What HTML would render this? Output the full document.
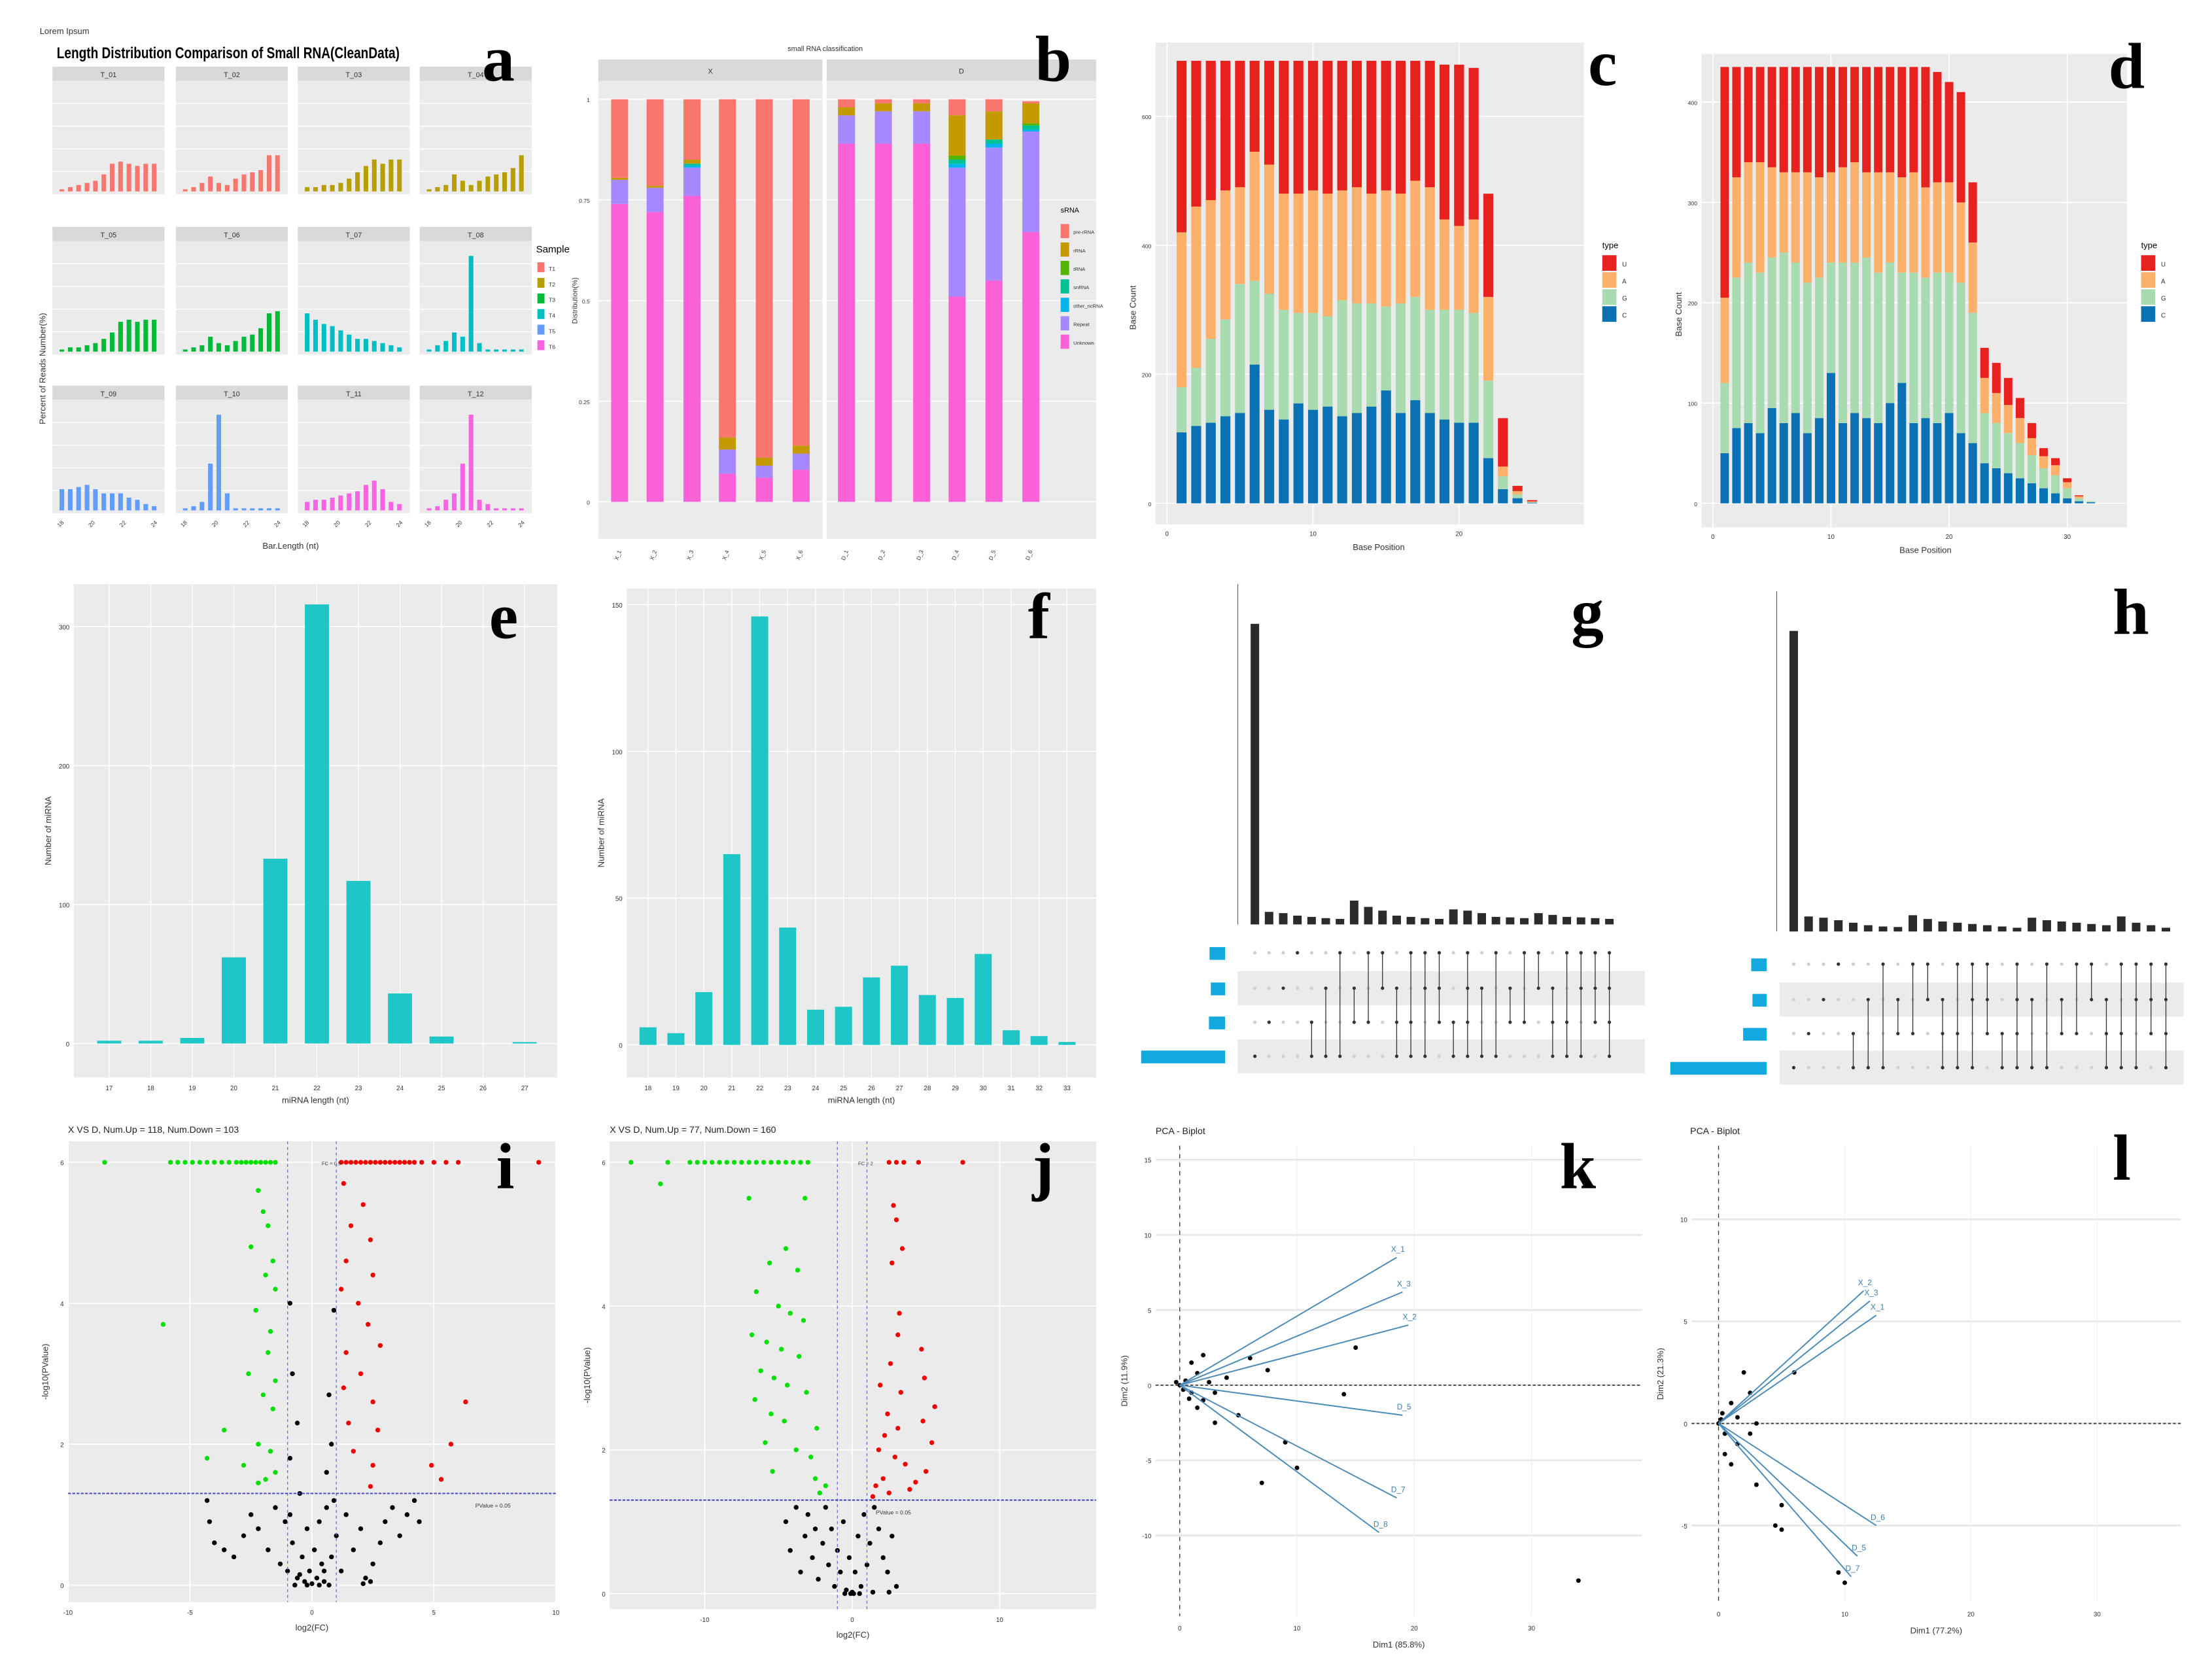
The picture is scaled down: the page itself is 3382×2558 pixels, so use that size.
<!DOCTYPE html>
<html><head><meta charset="utf-8"><style>
html,body{margin:0;padding:0;background:#fff;}
svg{display:block;font-family:"Liberation Sans",sans-serif;}
.big{font-family:"Liberation Serif",serif;font-weight:bold;}
</style></head><body>
<svg id="fig" xmlns="http://www.w3.org/2000/svg" width="3382" height="2558" viewBox="0 0 1560 1180" preserveAspectRatio="none"></svg>
<script>
// ---------- DATA ----------
const aSamples=['T_01','T_02','T_03','T_04','T_05','T_06','T_07','T_08','T_09','T_10','T_11','T_12'];
const aColors=['#f8766d','#f8766d','#b79f00','#b79f00','#00ba38','#00ba38','#00bfc4','#00bfc4','#619cff','#619cff','#f564e3','#f564e3'];
const aValues=[
[1,2,3,4,5,8,13,14,13,12,13,13],[1,2,4,7,4,3,6,8,9,10,17,17],[2,2,3,3,4,6,9,12,15,13,15,15],[1,2,3,8,5,3,5,7,8,9,11,17],
[1,2,2,3,4,6,9,14,15,14,15,15],[1,2,3,7,4,3,5,7,8,11,18,19],[18,15,13,12,10,8,6,6,5,4,3,2],[1,3,5,9,7,45,4,1,1,1,1,1],
[10,10,11,12,10,8,8,8,6,5,3,2],[1,2,4,22,45,8,1,1,1,1,1,1],[4,5,5,6,7,8,9,12,14,10,4,3],[1,2,5,8,22,45,5,3,1,1,1,1]];
const bCats=['X_1','X_2','X_3','X_4','X_5','X_6','D_1','D_2','D_3','D_4','D_5','D_6'];
const bTypes=['Unknown','Repeat','other_ncRNA','snRNA','tRNA','rRNA','pre-rRNA'];
const bColors=['#fb61d7','#a58aff','#00b6eb','#00c094','#53b400','#c49a00','#f8766d'];
const bUnknown=[0.74,0.72,0.76,0.07,0.06,0.08,0.89,0.89,0.89,0.51,0.55,0.67];
const bRepeat=[0.06,0.06,0.07,0.06,0.03,0.04,0.07,0.08,0.08,0.32,0.33,0.25];
const bOther=[0,0,0.005,0,0,0,0,0,0,0.01,0.01,0.005];
const bSn=[0,0,0.005,0,0,0,0,0,0,0.01,0.01,0.01];
const bT=[0,0,0,0,0,0,0,0,0,0.01,0,0.005];
const bR=[0.005,0.005,0.01,0.03,0.02,0.02,0.02,0.02,0.02,0.1,0.07,0.05];
const bPre=[0.195,0.215,0.15,0.84,0.89,0.86,0.02,0.01,0.01,0.04,0.03,0.005];
const cC=[110,120,125,135,140,215,145,130,155,145,150,135,140,150,175,140,160,140,130,125,125,70,22,8,1];
const cG=[70,90,130,150,200,130,180,170,140,150,140,180,170,160,130,170,160,160,170,175,170,120,20,6,1];
const cA=[240,250,215,200,150,200,200,180,185,190,190,170,180,170,180,170,180,190,140,130,145,130,15,5,1];
const cU=[266,226,216,201,196,141,161,206,206,201,206,201,196,206,201,206,186,196,240,250,235,160,75,8,2];
const dC=[50,75,80,70,95,80,90,70,85,130,80,90,85,80,100,120,80,85,80,90,70,60,40,35,30,25,20,15,10,5,2,1];
const dG=[70,150,160,160,150,170,150,150,140,110,160,150,160,150,140,110,150,140,150,140,150,130,50,45,40,35,28,20,18,10,3,1];
const dA=[85,100,100,110,90,80,90,110,100,90,95,100,85,100,90,95,100,90,90,90,80,70,35,30,28,25,17,12,10,6,2,0];
const dU=[230,110,95,95,100,105,105,105,110,105,100,95,105,105,105,110,105,120,110,100,110,60,30,30,27,20,15,8,7,4,1,0];
const eCats=[17,18,19,20,21,22,23,24,25,26,27];
const eVals=[2,2,4,62,133,316,117,36,5,0,1];
const fCats=[18,19,20,21,22,23,24,25,26,27,28,29,30,31,32,33];
const fVals=[6,4,18,65,146,40,12,13,23,27,17,16,31,5,3,1];
const gCounts=[1200,50,45,35,30,25,22,95,70,55,35,30,25,22,60,55,45,30,28,25,45,38,30,28,25,22];
const gSets=['0001','0010','0100','1000','0011','0101','1001','0110','1010','1100','0111','1011','1101','1110','0011','1111','0101','1001','0110','1010','1100','0111','1011','1101','1110','1111'];
const gSizes=[250,230,260,1350];
const hCounts=[1200,60,55,45,35,25,20,18,65,50,40,35,30,25,20,15,55,45,40,35,30,25,60,35,25,15];
const hSets=['0001','0010','0100','1000','0011','0101','1001','0110','1010','1100','0111','1011','1101','1110','0011','1111','0101','1001','0110','1010','1100','0111','1011','1101','1110','1111'];
const hSizes=[250,230,380,1550];
const iGreenX=[-8.5,-5.8,-5.5,-5.2,-4.9,-4.6,-4.3,-4.0,-3.7,-3.4,-3.1,-2.9,-2.7,-2.5,-2.3,-2.1,-1.9,-1.7,-1.5,-2.2,-2.0,-1.8,-2.5,-1.6,-1.9,-1.5,-2.3,-1.7,-6.1,-1.8,-2.6,-1.5,-2.0,-1.6,-3.6,-2.2,-1.7,-4.3,-2.8,-1.5,-1.9,-2.2];
const iGreenY=[6,6,6,6,6,6,6,6,6,6,6,6,6,6,6,6,6,6,6,5.6,5.3,5.1,4.8,4.6,4.4,4.2,3.9,3.6,3.7,3.3,3.0,2.9,2.7,2.5,2.2,2.0,1.9,1.8,1.7,1.6,1.5,1.45];
const iRedX=[1.2,1.4,1.6,1.8,2.0,2.2,2.4,2.6,2.8,3.0,3.2,3.4,3.6,3.8,4.0,4.2,4.5,5.0,5.5,6.0,9.3,1.3,2.1,1.6,2.4,1.4,2.5,1.2,1.9,2.3,2.8,1.4,2.0,1.3,2.5,6.3,1.5,2.7,5.7,1.7,2.5,5.3,4.9,2.4];
const iRedY=[6,6,6,6,6,6,6,6,6,6,6,6,6,6,6,6,6,6,6,6,6,5.7,5.4,5.1,4.9,4.6,4.4,4.2,4.0,3.7,3.4,3.3,3.0,2.8,2.6,2.6,2.3,2.2,2.0,1.9,1.7,1.5,1.7,1.4];
const iBlackX=[-0.9,0.9,-0.8,0.7,-0.6,0.8,-0.9,0.6,-0.5,-4.3,-4.2,-4.0,-3.6,-3.2,-2.8,-2.5,-2.2,-1.8,-1.5,-1.3,-1.1,-1.0,-0.8,-0.6,-0.4,-0.3,-0.2,-0.1,0,0.1,0.2,0.3,0.4,0.5,0.6,0.8,1.0,1.2,1.4,1.7,2.0,2.2,2.5,2.8,3.0,3.3,3.6,3.9,4.2,4.4,-0.7,0.7,-0.2,0.3,2.4,2.1,-0.5,0.5,-0.9,0.9];
const iBlackY=[4.0,3.9,3.0,2.7,2.3,2.0,1.8,1.6,1.3,1.2,0.9,0.6,0.5,0.4,0.7,1.0,0.8,0.5,1.1,0.3,0.9,0.2,0.6,0.1,0.4,0.05,0.8,0.2,0.02,0.5,0.1,0.9,0.3,0.05,1.1,0.4,0.7,0.2,1.0,0.5,0.8,0.1,0.3,0.6,0.9,1.1,0.7,1.0,1.2,0.9,0,0,0,0,0.05,0.02,0.15,0.2,1.0,1.2];
const jGreenX=[-15,-12.5,-11,-10.5,-10,-9.5,-9,-8.5,-8,-7.5,-7,-6.5,-6,-5.5,-5,-4.5,-4,-3.5,-3,-13,-7,-3.2,-4.5,-5.6,-3.7,-6.5,-5,-4.2,-3.3,-6.8,-5.8,-4.8,-3.6,-6.2,-5.3,-4.4,-3.1,-6.6,-5.5,-4.6,-2.4,-5.9,-3.8,-2.8,-5.4,-2.5,-1.8,-2.2];
const jGreenY=[6,6,6,6,6,6,6,6,6,6,6,6,6,6,6,6,6,6,6,5.7,5.5,5.5,4.8,4.6,4.5,4.2,4.0,3.9,3.8,3.6,3.5,3.4,3.3,3.1,3.0,2.9,2.8,2.7,2.5,2.4,2.3,2.1,2.0,1.9,1.7,1.6,1.5,1.4];
const jRedX=[2.5,3,3.5,4.5,7.5,2.8,3.0,3.4,2.7,3.1,4.7,3.2,2.6,4.9,1.9,3.3,5.6,2.4,4.8,3.1,2.2,5.4,1.8,2.9,3.6,5.0,2.1,4.3,1.6,3.9,2.5,1.4];
const jRedY=[6,6,6,6,6,5.4,5.2,4.8,4.6,3.6,3.4,3.9,3.2,3.0,2.9,2.8,2.6,2.5,2.4,2.3,2.2,2.1,2.0,1.9,1.8,1.7,1.6,1.55,1.5,1.45,1.4,1.35];
const jBlackX=[-4.5,-4.2,-3.8,-3.5,-3.2,-3.0,-2.7,-2.5,-2.3,-2.0,-1.8,-1.6,-1.4,-1.2,-1.0,-0.8,-0.6,-0.4,-0.2,0,0.2,0.4,0.6,0.8,1.0,1.2,1.5,1.8,2.1,2.4,2.7,3.0,-0.5,0.5,-0.1,0.1,1.4,2.5];
const jBlackY=[1.0,0.6,1.2,0.3,0.8,1.1,0.5,0.9,0.2,0.7,1.2,0.4,0.9,0.1,0.6,0.3,1.0,0.05,0.5,0.02,0.3,0.8,0.1,1.1,0.4,0.7,1.2,0.9,0.5,0.3,0.8,0.1,0,0,0,0,0.02,0.02];
const kLoadNames=['X_1','X_3','X_2','D_5','D_7','D_8'];
const kLoadX=[18.5,19,19.5,19,18.5,17];
const kLoadY=[8.5,6.2,4,-2,-7.5,-9.8];
const kPtX=[0,0.5,1,1.5,2,0.3,2.5,3,1,2,6,7.5,15,14,5,9,3,7,10,34,1.5,4,-0.3,0.8];
const kPtY=[0,0.3,-0.5,0.8,-1,-0.3,0.2,-0.5,1.5,2,1.8,1,2.5,-0.6,-2,-3.8,-2.5,-6.5,-5.5,-13,-1.5,0.5,0.2,-0.9];
const lLoadNames=['X_2','X_3','X_1','D_6','D_5','D_7'];
const lLoadX=[11.5,12,12.5,12.5,11,10.5];
const lLoadY=[6.5,6,5.3,-5,-6.5,-7.5];
const lPtX=[0,0.3,0.5,1,2,2.5,1.5,3,6,4.5,5,5,3,1,0.5,9.5,10,2.5,0.2,1.5];
const lPtY=[0,0.5,-0.5,1,2.5,1.5,-1,0,2.5,-5,-5.2,-4,-3,-2,-1.5,-7.3,-7.8,-0.5,0.2,0.3];

// ---------- helpers ----------
const NS='http://www.w3.org/2000/svg';
const svg=document.getElementById('fig');
function el(tag,attrs,parent){const e=document.createElementNS(NS,tag);for(const k in attrs)e.setAttribute(k,attrs[k]);(parent||svg).appendChild(e);return e;}
function txt(x,y,s,size,parent,extra){const t=el('text',Object.assign({x:x,y:y,'font-size':size,fill:'#333'},extra||{}),parent);t.textContent=s;return t;}
function grp(name){const g=el('g',{});return g;}
function bigLetter(x,y,s){const t=txt(x,y,s,46,svg,{'class':'big',fill:'#000'});}

// ---------- Panel a ----------
(function(){
const g=grp('panel-a');
txt(28,24,'Lorem Ipsum',6,g);
const tt=txt(40,41,'Length Distribution Comparison of Small RNA(CleanData)',11,g,{'font-weight':'bold',fill:'#000',transform:'scale(0.8,1) translate(10,0)'});

const colX=[37,124,210,296],rowY=[47,160,272],W=79;
aSamples.forEach((s,i)=>{
 const cx=colX[i%4],ry=rowY[Math.floor(i/4)];
 const fg=el('g',{},g);
 el('rect',{x:cx,y:ry,width:W,height:10,fill:'#d9d9d9'},fg);
 txt(cx+W/2,ry+7.5,s,5,fg,{'text-anchor':'middle'});
 el('rect',{x:cx,y:ry+10,width:W,height:80,fill:'#ebebeb'},fg);
 for(let k=1;k<5;k++)el('line',{x1:cx,x2:cx+W,y1:ry+10+k*16,y2:ry+10+k*16,stroke:'#fff','stroke-width':0.6},fg);
 const base=ry+88,sp=(W-8)/12;
 aValues[i].forEach((v,j)=>{const b=el('rect',{x:cx+5+j*sp,y:base-v*1.5,width:sp*0.55,height:v*1.5,fill:aColors[i]},fg);
 });
});
const yl=txt(0,0,'Percent of Reads Number(%)',6,g,{transform:'translate(32,260) rotate(-90)','text-anchor':'middle'});
txt(205,387,'Bar.Length (nt)',6,g,{'text-anchor':'middle'});
[37,124,210,296].forEach(x=>{['18','20','22','24'].forEach((l,k)=>txt(x+5+k*22,372,l,4,g,{transform:`rotate(-45 ${x+5+k*22} 372)`}));});
const lg=el('g',{},g);
txt(378,178,'Sample',7,lg,{fill:'#000'});
['#f8766d','#b79f00','#00ba38','#00bfc4','#619cff','#f564e3'].forEach((c,k)=>{el('rect',{x:379,y:185+k*11,width:5,height:7,fill:c},lg);txt(387,191+k*11,'T'+(k+1),4,lg);});
})();
bigLetter(340,57,'a');

// ---------- Panel b ----------
(function(){
const g=grp('panel-b');
txt(582,36,'small RNA classification',5,g,{'text-anchor':'middle'});
el('rect',{x:422,y:42,width:158,height:15,fill:'#d9d9d9'},g);el('rect',{x:583,y:42,width:190,height:15,fill:'#d9d9d9'},g);
txt(501,52,'X',5,g,{'text-anchor':'middle'});txt(678,52,'D',5,g,{'text-anchor':'middle'});
el('rect',{x:422,y:57,width:158,height:323,fill:'#ebebeb'},g);el('rect',{x:583,y:57,width:190,height:323,fill:'#ebebeb'},g);
const y0=354,yh=284;
[0,0.25,0.5,0.75,1].forEach(t=>{const y=y0-t*yh;el('line',{x1:422,x2:773,y1:y,y2:y,stroke:'#fff','stroke-width':0.8},g);txt(416,y+2,String(t),4,g,{'text-anchor':'end'});});
el('line',{x1:581.5,x2:581.5,y1:57,y2:380,stroke:'#fff','stroke-width':3},g);
txt(0,0,'Distribution(%)',5,g,{transform:'translate(407,212) rotate(-90)','text-anchor':'middle'});
const xs=[437,462,488,513,539,565,597,623,650,675,701,727];
const series=[bUnknown,bRepeat,bOther,bSn,bT,bR,bPre];
bCats.forEach((c,i)=>{let acc=0;series.forEach((s,k)=>{const v=s[i];if(v<=0)return;const r=el('rect',{x:xs[i]-6,y:y0-(acc+v)*yh,width:12,height:v*yh,fill:bColors[k]},g);
 acc+=v;});
 txt(xs[i],392,c,4,g,{transform:`rotate(-70 ${xs[i]} 392)`,'text-anchor':'middle'});});
const lg=el('g',{},g);
txt(748,150,'sRNA',5,lg,{fill:'#000'});
['pre-rRNA','rRNA','tRNA','snRNA','other_ncRNA','Repeat','Unknown'].forEach((n,k)=>{el('rect',{x:748,y:158+k*13,width:6,height:10,fill:bColors[6-k]},lg);txt(757,165+k*13,n,3.5,lg);});
})();
bigLetter(730,57,'b');

// ---------- Panels c,d ----------
function baseStack(name,bx,by,bw,bh,x0,xs,y0,ys,yticks,xticks,C,G,A,U,barW,lx){
 const g=grp(name);
 el('rect',{x:bx,y:by,width:bw,height:bh,fill:'#ebebeb'},g);
 yticks.forEach(t=>{const y=y0-t*ys;el('line',{x1:bx,x2:bx+bw,y1:y,y2:y,stroke:'#fff','stroke-width':0.8},g);txt(bx-3,y+2,String(t),4,g,{'text-anchor':'end'});});
 xticks.forEach(t=>{const x=x0+t*xs;el('line',{x1:x,x2:x,y1:by,y2:by+bh,stroke:'#fff','stroke-width':0.8},g);txt(x,by+bh+8,String(t),4.5,g,{'text-anchor':'middle'});});
 const types=['C','G','A','U'],cols=['#0a72b4','#a8dcb0','#fdb06a','#e7211e'],data=[C,G,A,U];
 C.forEach((_,i)=>{let acc=0;const x=x0+(i+1)*xs;data.forEach((s,k)=>{const v=s[i];if(v<=0)return;const r=el('rect',{x:x-barW/2,y:y0-(acc+v)*ys,width:barW,height:v*ys,fill:cols[k]},g);
 acc+=v;});});
 txt(0,0,'Base Count',6,g,{transform:`translate(${bx-14},${by+bh*0.55}) rotate(-90)`,'text-anchor':'middle'});
 txt(x0+xs*(C.length/2+2),by+bh+18,'Base Position',6,g,{'text-anchor':'middle'});
 const lg=el('g',{},g);
 txt(lx,175,'type',6,lg,{fill:'#000'});
 ['U','A','G','C'].forEach((n,k)=>{el('rect',{x:lx,y:180+k*12,width:10,height:11,fill:cols[3-k]},lg);txt(lx+14,188+k*12,n,4.5,lg);});
}
baseStack('panel-c',815,30,302,340,823,10.3,355,0.455,[0,200,400,600],[0,10,20],cC,cG,cA,cU,7,1130);
bigLetter(1120,60,'c');
baseStack('panel-d',1200,38,300,334,1208,8.33,355,0.7075,[0,100,200,300,400],[0,10,20,30],dC,dG,dA,dU,6,1510);
bigLetter(1487,62,'d');

// ---------- Panels e,f ----------
function lenBar(name,bx,by,bw,bh,cats,vals,x0,xsp,y0,ys,yticks,barW){
 const g=grp(name);
 el('rect',{x:bx,y:by,width:bw,height:bh,fill:'#ebebeb'},g);
 yticks.forEach(t=>{const y=y0-t*ys;el('line',{x1:bx,x2:bx+bw,y1:y,y2:y,stroke:'#fff','stroke-width':0.8},g);txt(bx-3,y+2,String(t),4.5,g,{'text-anchor':'end'});});
 cats.forEach((c,i)=>{const x=x0+i*xsp;el('line',{x1:x,x2:x,y1:by,y2:by+bh,stroke:'#fff','stroke-width':0.6},g);
 const r=el('rect',{x:x-barW/2,y:y0-vals[i]*ys,width:barW,height:vals[i]*ys,fill:'#1fc6c8'},g);
 
 txt(x,by+bh+9,String(c),4.5,g,{'text-anchor':'middle'});});
 txt(bx+bw/2,by+bh+18,'miRNA length (nt)',6,g,{'text-anchor':'middle'});
 txt(0,0,'Number of miRNA',6,g,{transform:`translate(${bx-16},${by+bh/2}) rotate(-90)`,'text-anchor':'middle'});
}
lenBar('panel-e',52,412,341,348,eCats,eVals,77,29.3,736,0.98,[0,100,200,300],17);
bigLetter(345,450,'e');
lenBar('panel-f',442,415,331,345,fCats,fVals,457,19.7,737,2.07,[0,50,100,150],12);
bigLetter(725,450,'f');

// ---------- Panels g,h (UpSet) ----------
function upset(name,x0,sp,base,counts,sets,rowY,sizes,sx,mx1,mx2){
 const g=grp(name);
 const sc=212/1200;
 el('line',{x1:x0-12,x2:x0-12,y1:base-240,y2:base,stroke:'#333','stroke-width':0.4},g);
 counts.forEach((c,i)=>{const x=x0+i*sp;const r=el('rect',{x:x-3,y:base-c*sc,width:6,height:c*sc,fill:'#2b2b2b'},g);
 });
 rowY.forEach((y,k)=>{if(k%2==1)el('rect',{x:mx1,y:y-12,width:mx2-mx1,height:24,fill:'#ebebeb'},g);});
 sets.forEach((s,i)=>{const x=x0+i*sp;let ys=[];for(let k=0;k<4;k++){const on=s[k]=='1';el('circle',{cx:x,cy:rowY[k],r:1.2,fill:on?'#333':'#d0d0d0'},g);if(on)ys.push(rowY[k]);}
 if(ys.length>1)el('line',{x1:x,x2:x,y1:Math.min(...ys),y2:Math.max(...ys),stroke:'#333','stroke-width':0.6},g);});
 const ss=68/1550;
 sizes.forEach((v,k)=>{const r=el('rect',{x:sx-v*ss,y:rowY[k]-4,width:v*ss,height:9,fill:'#13a9df'},g);
 });
}
upset('panel-g',885,10,652,gCounts,gSets,[672,697,721,745],gSizes,864,873,1160);
bigLetter(1108,447,'g');
upset('panel-h',1265,10.5,657,hCounts,hSets,[680,705,729,753],hSizes,1246,1255,1540);
bigLetter(1490,447,'h');

// ---------- Panels i,j (volcano) ----------
function volcano(name,title,bx,by,bw,bh,xz,xs,yz,ys,xt,yt,GX,GY,RX,RY,KX,KY,fcLabel){
 const g=grp(name);
 txt(bx,by-6,title,6.5,g,{fill:'#222'});
 el('rect',{x:bx,y:by,width:bw,height:bh,fill:'#ebebeb'},g);
 yt.forEach(t=>{const y=yz-t*ys;el('line',{x1:bx,x2:bx+bw,y1:y,y2:y,stroke:'#fff','stroke-width':0.8},g);txt(bx-3,y+2,String(t),4.5,g,{'text-anchor':'end'});});
 xt.forEach(t=>{const x=xz+t*xs;el('line',{x1:x,x2:x,y1:by,y2:by+bh,stroke:'#fff','stroke-width':0.8},g);txt(x,by+bh+9,String(t),4.5,g,{'text-anchor':'middle'});});
 const px=v=>xz+v*xs,py=v=>yz-v*ys;
 [[KX,KY,'#000','point-ns'],[GX,GY,'#00e000','point-down'],[RX,RY,'#f00000','point-up']].forEach(([X,Y,c,n])=>{X.forEach((v,i)=>{const p=el('circle',{cx:px(v),cy:py(Y[i]),r:1.7,fill:c},g);
 });});
 [-1,1].forEach(t=>el('line',{x1:px(t),x2:px(t),y1:by,y2:by+bh,stroke:'#6a6ae0','stroke-width':0.6,'stroke-dasharray':'2,2'},g));
 el('line',{x1:bx,x2:bx+bw,y1:py(1.301),y2:py(1.301),stroke:'#4040c0','stroke-width':0.9,'stroke-dasharray':'2,1'},g);
 txt(px(0.4),py(6)+2,fcLabel,3.5,g);
 txt(fcLabel=='FC = 0.5'?px(6.7):px(1.6),py(1.301)+10,'PValue = 0.05',4,g);
 txt(bx+bw/2,by+bh+20,'log2(FC)',6,g,{'text-anchor':'middle'});
 txt(0,0,'-log10(PValue)',6,g,{transform:`translate(${bx-14},${by+bh/2}) rotate(-90)`,'text-anchor':'middle'});
}
volcano('panel-i','X VS D,  Num.Up = 118,  Num.Down = 103',48,805,344,325,220,17.2,1118,49.7,[-10,-5,0,5,10],[0,2,4,6],iGreenX,iGreenY,iRedX,iRedY,iBlackX,iBlackY,'FC = 0.5');
bigLetter(350,838,'i');
volcano('panel-j','X VS D,  Num.Up = 77,  Num.Down = 160',430,805,343,330,601,10.4,1124,50.7,[-10,0,10],[0,2,4,6],jGreenX,jGreenY,jRedX,jRedY,jBlackX,jBlackY,'FC = 2');
bigLetter(728,838,'j');

// ---------- Panels k,l (PCA) ----------
function pca(name,tx,x0,xs,y0,ys,gx1,gx2,gy1,gy2,xt,yt,PX,PY,LN,LX,LY,xlab,ylab){
 const g=grp(name);
 txt(tx,800,'PCA - Biplot',6.5,g,{fill:'#222'});
 const px=v=>x0+v*xs,py=v=>y0-v*ys;
 yt.forEach(t=>{el('line',{x1:gx1,x2:gx2,y1:py(t),y2:py(t),stroke:'#e6e6e6','stroke-width':1.2},g);txt(gx1-3,py(t)+2,String(t),4.5,g,{'text-anchor':'end'});});
 xt.forEach(t=>{el('line',{x1:px(t),x2:px(t),y1:gy1,y2:gy2,stroke:'#f0f0f0','stroke-width':0.6},g);txt(px(t),gy2+10,String(t),4.5,g,{'text-anchor':'middle'});});
 el('line',{x1:px(0),x2:px(0),y1:gy1,y2:gy2,stroke:'#333','stroke-width':0.6,'stroke-dasharray':'3,3'},g);
 el('line',{x1:gx1,x2:gx2,y1:py(0),y2:py(0),stroke:'#333','stroke-width':0.8,'stroke-dasharray':'2,1.5'},g);
 PX.forEach((v,i)=>{const p=el('circle',{cx:px(v),cy:py(PY[i]),r:1.6,fill:'#000'},g);});
 LN.forEach((n,i)=>{const x=px(LX[i]),y=py(LY[i]);const a=el('line',{x1:px(0),y1:py(0),x2:x,y2:y,stroke:'#4a8ab8','stroke-width':0.9},g);
 
 txt(x-4,y-4,n,5.5,g,{fill:'#3a7eb0'});});
 txt((gx1+gx2)/2,gy2+22,xlab,6,g,{'text-anchor':'middle'});
 txt(0,0,ylab,6,g,{transform:`translate(${gx1-20},${(gy1+gy2)/2}) rotate(-90)`,'text-anchor':'middle'});
}
pca('panel-k',815,832,8.27,977,10.6,815,1158,808,1140,[0,10,20,30],[15,10,5,0,-5,-10],kPtX,kPtY,kLoadNames,kLoadX,kLoadY,'Dim1 (85.8%)','Dim2 (11.9%)');
bigLetter(1100,838,'k');
pca('panel-l',1192,1212,8.9,1004,14.4,1193,1538,808,1130,[0,10,20,30],[10,5,0,-5],lPtX,lPtY,lLoadNames,lLoadX,lLoadY,'Dim1 (77.2%)','Dim2 (21.3%)');
bigLetter(1490,832,'l');
</script>
</body></html>
